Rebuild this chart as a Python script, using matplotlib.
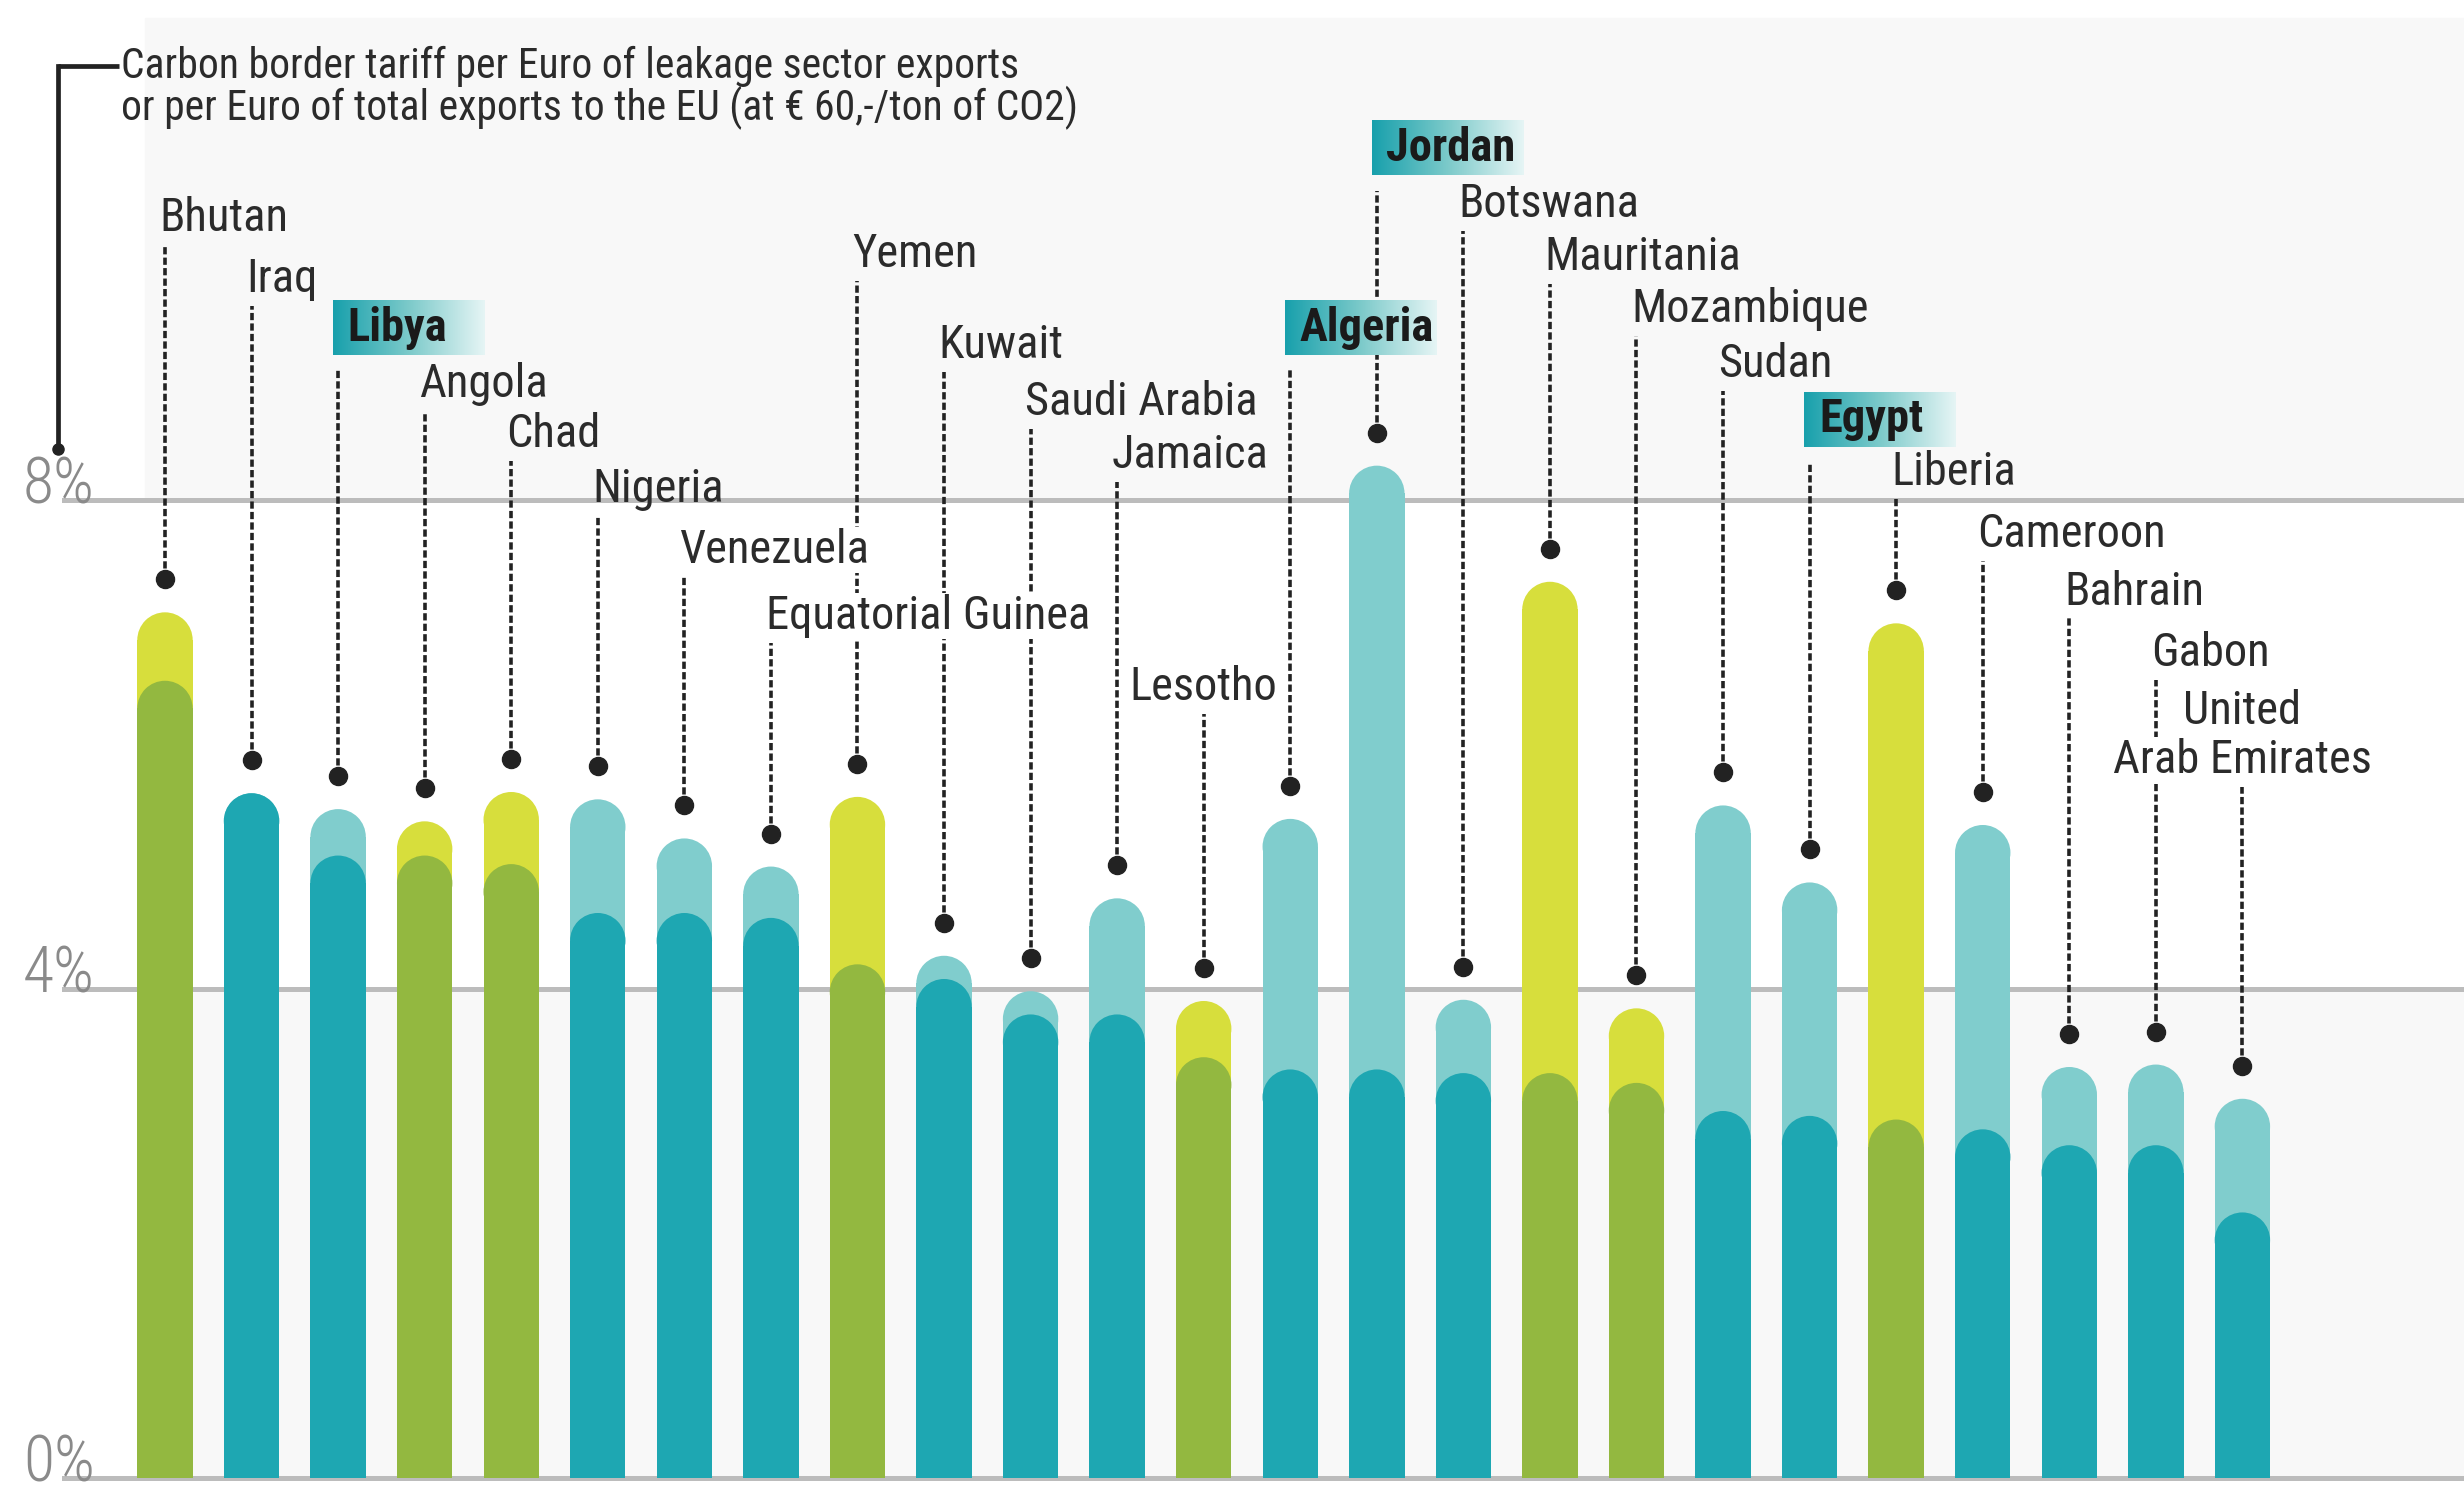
import matplotlib
matplotlib.use("Agg")
import numpy as np
import matplotlib.pyplot as plt
from matplotlib import font_manager
from matplotlib.patches import Ellipse

# carbon border tariff, % of exports to the EU
countries = ["Bhutan", "Iraq", "Libya", "Angola", "Chad", "Nigeria", "Venezuela",
             "Equatorial Guinea", "Yemen", "Kuwait", "Saudi Arabia", "Jamaica",
             "Lesotho", "Algeria", "Jordan", "Botswana", "Mauritania", "Mozambique",
             "Sudan", "Egypt", "Liberia", "Cameroon", "Bahrain", "Gabon",
             "United\nArab Emirates"]
leakage = [7.08, 5.60, 5.47, 5.37, 5.61, 5.55, 5.23, 5.00, 5.57, 4.27, 3.98, 4.74,
           3.90, 5.39, 8.28, 3.91, 7.33, 3.84, 5.50, 4.87, 6.99, 5.34, 3.36, 3.38, 3.10]
total = [6.52, 5.60, 5.09, 5.09, 5.02, 4.62, 4.62, 4.58, 4.20, 4.08, 3.79, 3.79,
         3.44, 3.34, 3.34, 3.31, 3.31, 3.23, 3.00, 2.96, 2.93, 2.85, 2.72, 2.72, 2.17]
green = ["Bhutan", "Angola", "Chad", "Yemen", "Lesotho", "Mauritania",
         "Mozambique", "Liberia"]
highlight = ["Libya", "Algeria", "Jordan", "Egypt"]
yticks = [0, 4, 8]

# label layout (height of label centre, in %)
label_y = [10.31, 9.81, 9.41, 8.95, 8.54, 8.09, 7.59, 7.05, 10.01, 9.27, 8.80, 8.37,
           6.47, 9.41, 10.88, 10.42, 9.99, 9.56, 9.11, 8.66, 8.23, 7.72, 7.25, 6.75, 6.07]
centered = ["Lesotho", "United\nArab Emirates"]

names = {f.name for f in font_manager.fontManager.ttflist}
FONT = "DejaVu Sans"
for cand in ["Roboto Condensed", "Liberation Sans Narrow", "Open Sans Condensed"]:
    if cand in names:
        FONT = cand
        break
plt.rcParams["font.family"] = [FONT, "DejaVu Sans"]

TEXT = "#2b2b2b"
BAND = "#f8f8f8"
GRID = "#bcbcbc"
LABEL_SIZE = 33.5
LINE_H = 0.40  # one text line, in %

fig = plt.figure(figsize=(24.64, 14.95), dpi=100)
ax = fig.add_axes([0, 0.0116, 1, 1 - 0.0116])
ax.set_xlim(-1.906, 26.56)
ax.set_ylim(0, 12.09)
ax.axis("off")

# background bands
ax.axhspan(0, 4, xmin=0.0587, xmax=1, color=BAND, zorder=0)
ax.axhspan(8, 11.94, xmin=0.0587, xmax=1, color=BAND, zorder=0)
for v in yticks:
    ax.axhline(v, xmin=0.026, xmax=1, color=GRID, lw=3.6, zorder=1, clip_on=False)
    ax.text(-1.64, v - 0.03, f"{v}%", fontsize=46, fontweight="light",
            color="#8a8a8a", va="baseline", ha="left", zorder=1)

x = np.arange(len(countries))
w = 0.64
sx = ax.transData.transform((1, 0))[0] - ax.transData.transform((0, 0))[0]
sy = ax.transData.transform((0, 1))[1] - ax.transData.transform((0, 0))[1]
r = w / 2 * sx / sy


def rounded_bar(xc, top, color, z):
    ax.bar(xc, top - r, width=w, color=color, zorder=z, linewidth=0)
    ax.add_patch(Ellipse((xc, top - r), w, 2 * r, color=color, zorder=z, lw=0))


cmap = matplotlib.colors.LinearSegmentedColormap.from_list(
    "hl", ["#18a0ac", "#7ccaca", "#e6f5f5"])
grad = np.linspace(0, 1, 256).reshape(1, -1)

for i, name in enumerate(countries):
    if name in green:
        light, dark = "#d7de3c", "#93b840"
    else:
        light, dark = "#80cdcd", "#1ea7b2"
    rounded_bar(x[i], leakage[i], light, 2)
    rounded_bar(x[i], total[i], dark, 3)

    # leader line + dot
    lines = name.split("\n")
    dot = leakage[i] + 0.27
    ly = label_y[i]
    if name in highlight:
        top = ly - 0.35
    else:
        top = ly - 0.22 - (len(lines) - 1) * LINE_H / 2
    ax.plot([x[i], x[i]], [dot, top], color="#222222", lw=2.6,
            linestyle=(0, (2.0, 0.9)), zorder=4)
    ax.plot(x[i], dot, "o", color="#222222", ms=13, zorder=4)

    if name in highlight:
        bx0 = x[i] - 0.06
        ax.imshow(grad, extent=(bx0, bx0 + 1.75, ly - 0.225, ly + 0.225),
                  aspect="auto", cmap=cmap, zorder=5)
        ax.text(bx0 + 0.17, ly, name, fontsize=LABEL_SIZE, fontweight="bold",
                color="#1a1a1a", va="center", ha="left", zorder=6)
        continue

    ha = "center" if name in centered else "left"
    tx = x[i] if ha == "center" else x[i] - 0.06
    first = ly + (len(lines) - 1) * LINE_H / 2
    for k, line in enumerate(lines):
        yk = first - k * LINE_H
        bbox = None
        if yk < 7.85:
            bbox = dict(facecolor="white", edgecolor="none", pad=1)
        elif yk > 8.3:
            bbox = dict(facecolor=BAND, edgecolor="none", pad=1)
        ax.text(tx, yk, line, fontsize=LABEL_SIZE, color=TEXT, va="center",
                ha=ha, bbox=bbox, zorder=5)

# heading with bracket
ax.plot([-1.235, -0.53], [11.55, 11.55], color="#222222", lw=3.4,
        solid_capstyle="butt", zorder=4)
ax.plot([-1.235, -1.235], [11.55, 8.42], color="#222222", lw=3.4, zorder=4)
ax.plot(-1.235, 8.42, "o", color="#222222", ms=8, zorder=4)
ax.text(-0.508, 11.55, "Carbon border tariff per Euro of leakage sector exports",
        fontsize=30, color=TEXT, va="center", ha="left", zorder=5)
ax.text(-0.508, 11.21, "or per Euro of total exports to the EU (at € 60,-/ton of CO2)",
        fontsize=30, color=TEXT, va="center", ha="left", zorder=5)

fig.savefig("out.png", dpi=100, facecolor="white")
